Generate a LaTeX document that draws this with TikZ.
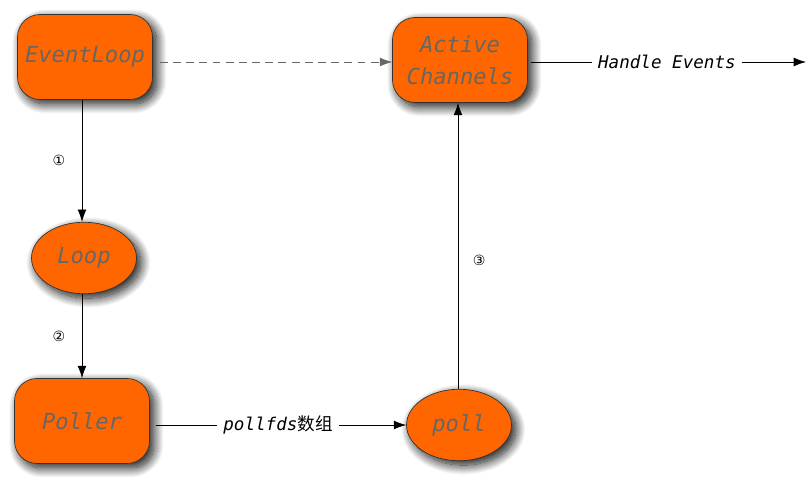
\documentclass[tikz,border=0pt]{standalone}
\usepackage{fontspec}
\setmonofont{DejaVu Sans Mono}
\newfontfamily\cjkfont{Noto Sans CJK SC}
\newfontfamily\numfont{DejaVu Sans}
\usetikzlibrary{shapes.geometric,shadows.blur,arrows.meta}
\definecolor{boxorange}{HTML}{FF6600}
\definecolor{boxtext}{HTML}{666666}
\tikzset{
	stagebox/.style={draw=black!80,fill=boxorange,rounded corners=0.45cm,minimum width=2.7cm,minimum height=1.7cm,inner sep=0pt,align=center,text=boxtext,font=\ttfamily\itshape\fontsize{12.6}{18}\selectfont,blur shadow={shadow xshift=2.5pt,shadow yshift=-2.5pt,shadow blur radius=5.5pt,shadow blur steps=20,shadow opacity=95}},
	stageoval/.style={draw=black!80,fill=boxorange,ellipse,minimum width=2.1cm,minimum height=1.43cm,inner sep=0pt,text=boxtext,font=\ttfamily\itshape\fontsize{12.6}{18}\selectfont,blur shadow={shadow xshift=2.5pt,shadow yshift=-2.5pt,shadow blur radius=5.5pt,shadow blur steps=20,shadow opacity=95}},
	flow/.style={-{Latex[length=7pt,width=5pt]},thin},
	steplabel/.style={font=\numfont\footnotesize},
	flowlabel/.style={fill=white,font=\ttfamily\itshape,inner sep=3.5pt}
}
\begin{document}
\begin{tikzpicture}[x=0.02cm,y=-0.02cm]
			\useasboundingbox (0,0) rectangle (808,486);
			\node[stagebox] (eventloop) at (85,57) {EventLoop};
			\node[stagebox] (active) at (460,60) {Active\\Channels};
			\node[stageoval] (loop) at (84,258) {Loop};
			\node[stagebox] (poller) at (82,421) {Poller};
			\node[stageoval] (poll) at (459,425) {poll};
			\coordinate (handle) at (806,62);
			\draw[flow] (eventloop.south -| 82,0) -- node[steplabel,midway,left=6pt] {①} (loop.north -| 82,0);
			\draw[flow] (loop.south -| 82,0) -- node[steplabel,midway,left=6pt] {②} (poller.north -| 82,0);
			\draw[flow,shorten <=3.5pt] (poller.east |- 0,425) -- node[flowlabel,midway] {pollfds{\cjkfont\upshape 数组}} (poll.west);
			\draw[flow] (poll.north -| 458,0) -- node[steplabel,pos=0.45,right=5pt] {③} (active.south -| 458,0);
			\draw[flow,black!60,dash pattern=on 4.5pt off 3pt,shorten <=4pt] (eventloop.east |- 0,62) -- (active.west |- 0,62);
			\draw[flow,shorten <=2pt] (active.east |- 0,62) -- node[flowlabel,midway] {Handle Events} (handle);
\end{tikzpicture}
\end{document}
